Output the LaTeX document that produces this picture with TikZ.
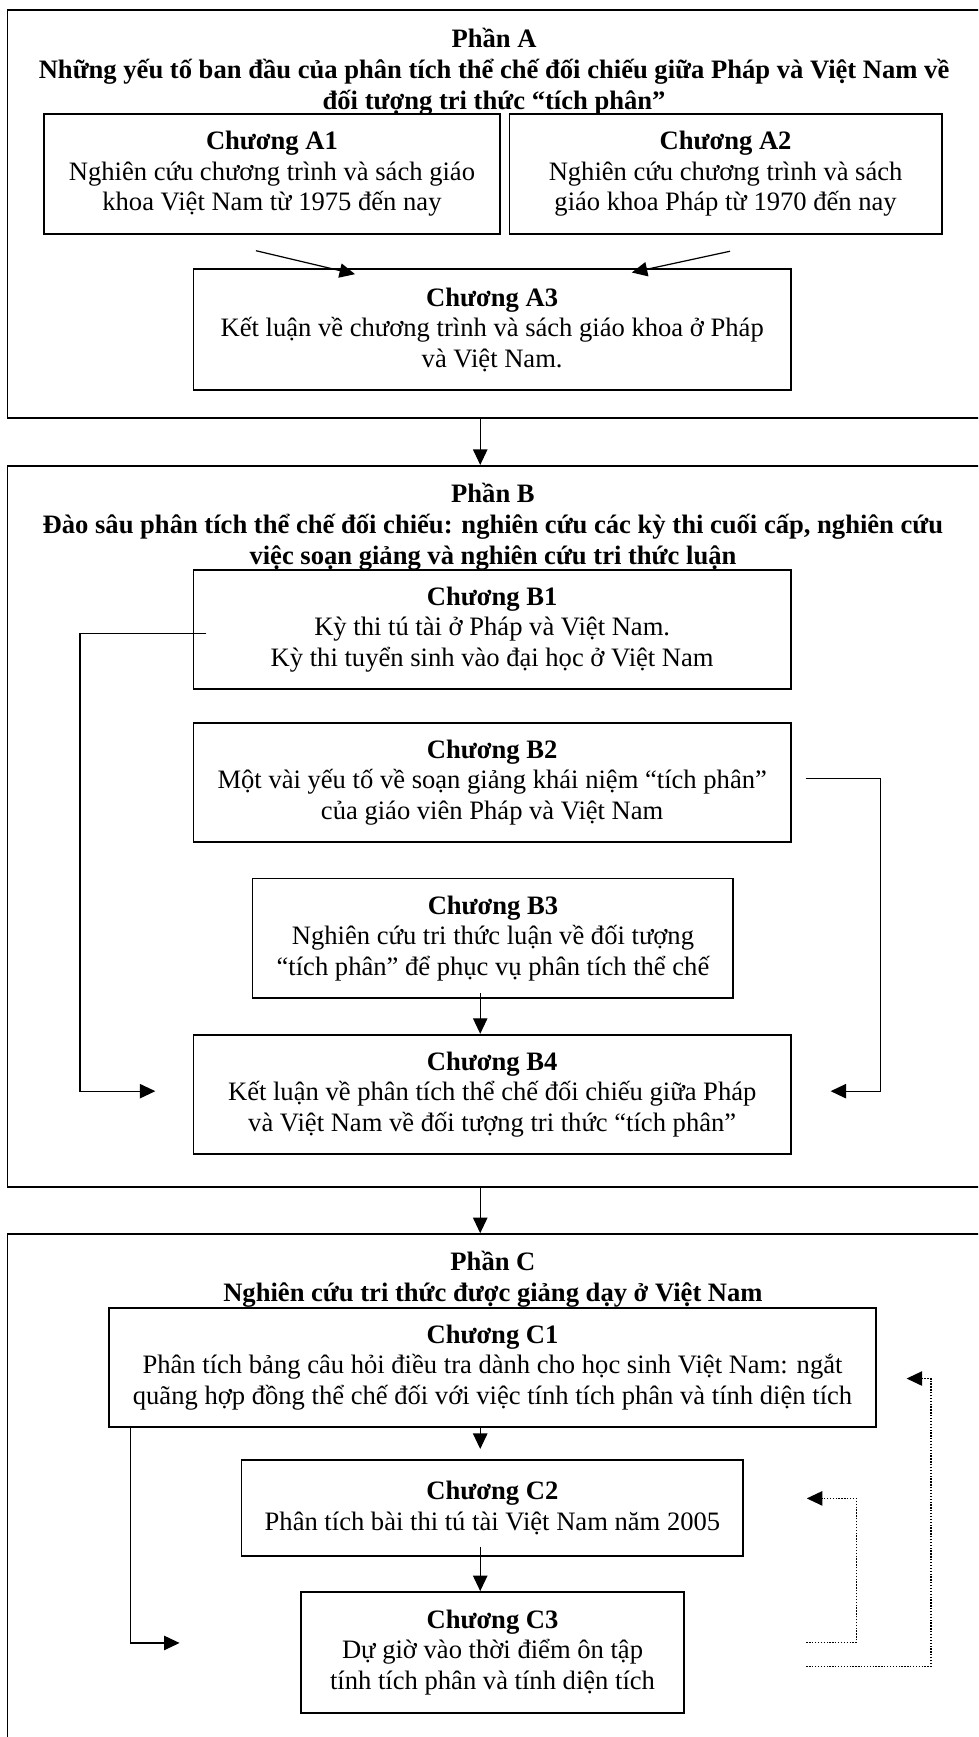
\documentclass[tikz,border=0pt]{standalone}
\usepackage{fontspec}
\setmainfont{Liberation Serif}
\usetikzlibrary{arrows.meta,calc}
\begin{document}
\begin{tikzpicture}[x=0.5pt,y=-0.5pt,
  box/.style={draw, line width=0.8pt, inner sep=0pt, align=center,
    font=\fontsize{12}{13.8}\selectfont},
  outer/.style={draw, line width=0.8pt, inner sep=0pt},
  ttl/.style={align=center, inner sep=0pt, font=\bfseries\fontsize{12}{14}\selectfont},
  arr/.style={line width=0.55pt, -{Triangle[length=7pt,width=6.5pt]}},
  dotarr/.style={arr, dash pattern=on 0.6pt off 0.7pt}]
\useasboundingbox (0,0) rectangle (883,1568);
\clip (0,0) rectangle (883,1568);
\coordinate (X) at (433.5,0);

% outer parts
\node[outer, minimum width=446.6pt, minimum height=184pt] (partA) at (453.4,193) {};
\node[outer, minimum width=446.6pt, minimum height=325.5pt] (partB) at (453.4,746) {};
\node[outer, minimum width=446.6pt, minimum height=243pt] (partC) at (453.4,1357) {};

% part titles
\node[ttl] (tA) at (446,64.5) {Phần A\\Những yếu tố ban đầu của phân tích thể chế đối chiếu giữa Pháp và Việt Nam về\\đối tượng tri thức “tích phân”};
\node[ttl] (tB) at (445,475.5) {Phần B\\Đào sâu phân tích thể chế đối chiếu: nghiên cứu các kỳ thi cuối cấp, nghiên cứu\\việc soạn giảng và nghiên cứu tri thức luận};
\node[ttl] (tC) at (445,1154.5) {Phần C\\Nghiên cứu tri thức được giảng dạy ở Việt Nam};

% part A
\node[box, minimum width=205.5pt, minimum height=54pt] (A1) at (245.5,157)
  {\textbf{Chương A1}\\Nghiên cứu chương trình và sách giáo\\khoa Việt Nam từ 1975 đến nay};
\node[box, minimum width=195pt, minimum height=54pt] (A2) at (655,157)
  {\textbf{Chương A2}\\Nghiên cứu chương trình và sách\\giáo khoa Pháp từ 1970 đến nay};
\node[box, minimum width=269.7pt, minimum height=54.5pt] (A3) at (444.3,297.5)
  {\textbf{Chương A3}\\Kết luận về chương trình và sách giáo khoa ở Pháp\\và Việt Nam.};

% part B
\node[box, minimum width=269.7pt, minimum height=53.7pt] (B1) at (444.3,568.3)
  {\textbf{Chương B1}\\Kỳ thi tú tài ở Pháp và Việt Nam.\\Kỳ thi tuyển sinh vào đại học ở Việt Nam};
\node[box, minimum width=269.7pt, minimum height=53.6pt] (B2) at (444.3,706.4)
  {\textbf{Chương B2}\\Một vài yếu tố về soạn giảng khái niệm “tích phân”\\của giáo viên Pháp và Việt Nam};
\node[box, minimum width=217pt, minimum height=54pt] (B3) at (445,847)
  {\textbf{Chương B3}\\Nghiên cứu tri thức luận về đối tượng\\“tích phân” để phục vụ phân tích thể chế};
\node[box, minimum width=269.7pt, minimum height=54pt] (B4) at (444.3,988)
  {\textbf{Chương B4}\\Kết luận về phân tích thể chế đối chiếu giữa Pháp\\và Việt Nam về đối tượng tri thức “tích phân”};

% part C
\node[box, minimum width=346pt, minimum height=53.7pt] (C1) at (444.6,1234.4)
  {\textbf{Chương C1}\\Phân tích bảng câu hỏi điều tra dành cho học sinh Việt Nam: ngắt\\quãng hợp đồng thể chế đối với việc tính tích phân và tính diện tích};
\node[box, minimum width=226.5pt, minimum height=43.3pt] (C2) at (444.5,1361.1)
  {\textbf{Chương C2}\\Phân tích bài thi tú tài Việt Nam năm 2005};
\node[box, minimum width=173pt, minimum height=54.5pt] (C3) at (444.6,1491.6)
  {\textbf{Chương C3}\\Dự giờ vào thời điểm ôn tập\\tính tích phân và tính diện tích};

% connectors part A
\draw[arr] ($(A1.south)+(-14.5,14.5)$) -- ($(A3.north)+(-123.8,5.3)$);
\draw[arr] ($(A2.south)+(4,15)$) -- ($(A3.north)+(126,3.8)$);

% between parts
\draw[arr] (partA.south -| X) -- (partB.north -| X);
\draw[arr] (partB.south -| X) -- (partC.north -| X);

% part B
\draw[arr] ($(B3.south -| X)+(0,-5)$) -- (B4.north -| X);
\draw[arr] ($(B1.west)+(12.5,3.7)$) -- ++(-114.1,0) |- ($(B4.west)+(-33.6,-3)$);
\draw[arr] ($(B2.east)+(12.5,-3.4)$) -- ++(67.5,0) |- ($(B4.east)+(35,-3)$);

% part C
\draw[arr] (C1.south -| X) -- ($(C2.north -| X)+(0,-9)$);
\draw[arr] ($(C2.south -| X)+(0,-9)$) -- (C3.north -| X);
\draw[arr] ($(C1.south west)+(19.7,0)$) |- ($(C3.west)+(-108.7,-8.5)$);
\draw[dotarr] ($(C3.east)+(109.5,-9)$) -- ++(45,0) |- ($(C2.east)+(56.5,-8.5)$);
\draw[dotarr] ($(C3.east)+(109.5,12.5)$) -- ++(112.5,0) |- ($(C1.east)+(27,10)$);
\end{tikzpicture}
\end{document}
